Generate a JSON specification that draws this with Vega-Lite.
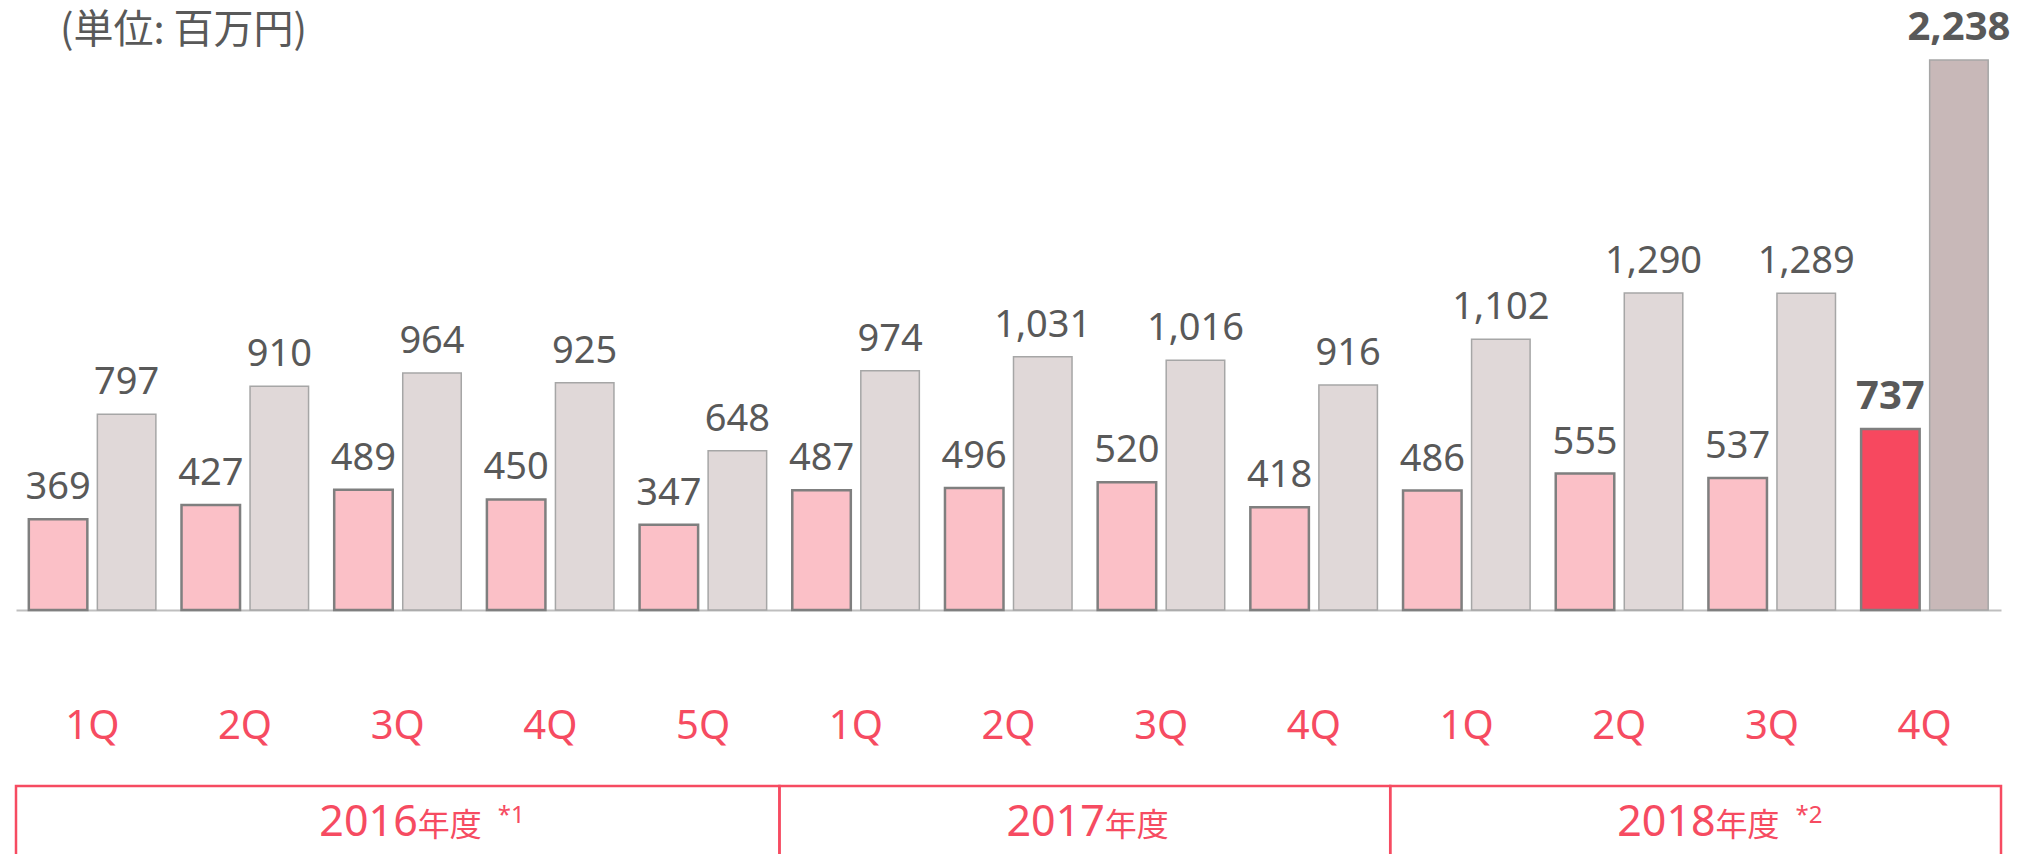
{
  "$schema": "https://vega.github.io/schema/vega-lite/v6.json",
  "autosize": {"type": "pad"},
  "padding": {"left": 14, "top": 8, "right": 0, "bottom": 0},
  "background": "white",
  "spacing": 38,
  "config": {"view": {"stroke": null}},
  "vconcat": [
    {
      "width": 1985,
      "height": 550,
      "title": {
        "text": "(単位: 百万円)",
        "anchor": "start",
        "frame": "group",
        "offset": -43,
        "dx": 44,
        "font": "Noto Sans CJK JP",
        "fontSize": 40,
        "fontWeight": "normal",
        "color": "#595959"
      },
      "data": {
        "values": [
          {"p": "2016-1Q", "s": "A", "v": 369, "latest": false},
          {"p": "2016-1Q", "s": "B", "v": 797, "latest": false},
          {"p": "2016-2Q", "s": "A", "v": 427, "latest": false},
          {"p": "2016-2Q", "s": "B", "v": 910, "latest": false},
          {"p": "2016-3Q", "s": "A", "v": 489, "latest": false},
          {"p": "2016-3Q", "s": "B", "v": 964, "latest": false},
          {"p": "2016-4Q", "s": "A", "v": 450, "latest": false},
          {"p": "2016-4Q", "s": "B", "v": 925, "latest": false},
          {"p": "2016-5Q", "s": "A", "v": 347, "latest": false},
          {"p": "2016-5Q", "s": "B", "v": 648, "latest": false},
          {"p": "2017-1Q", "s": "A", "v": 487, "latest": false},
          {"p": "2017-1Q", "s": "B", "v": 974, "latest": false},
          {"p": "2017-2Q", "s": "A", "v": 496, "latest": false},
          {"p": "2017-2Q", "s": "B", "v": 1031, "latest": false},
          {"p": "2017-3Q", "s": "A", "v": 520, "latest": false},
          {"p": "2017-3Q", "s": "B", "v": 1016, "latest": false},
          {"p": "2017-4Q", "s": "A", "v": 418, "latest": false},
          {"p": "2017-4Q", "s": "B", "v": 916, "latest": false},
          {"p": "2018-1Q", "s": "A", "v": 486, "latest": false},
          {"p": "2018-1Q", "s": "B", "v": 1102, "latest": false},
          {"p": "2018-2Q", "s": "A", "v": 555, "latest": false},
          {"p": "2018-2Q", "s": "B", "v": 1290, "latest": false},
          {"p": "2018-3Q", "s": "A", "v": 537, "latest": false},
          {"p": "2018-3Q", "s": "B", "v": 1289, "latest": false},
          {"p": "2018-4Q", "s": "A", "v": 737, "latest": true},
          {"p": "2018-4Q", "s": "B", "v": 2238, "latest": true}
        ]
      },
      "encoding": {
        "x": {
          "field": "p",
          "type": "nominal",
          "sort": null,
          "scale": {"paddingInner": 0, "paddingOuter": 0},
          "axis": {
            "title": null,
            "ticks": false,
            "labelExpr": "slice(datum.value, 5)",
            "labelAngle": 0,
            "labelFont": "Noto Sans",
            "labelFontSize": 40,
            "labelColor": "#F64B61",
            "labelBaseline": "alphabetic",
            "labelPadding": 128,
            "domainColor": "#BFBFBF",
            "domainWidth": 2
          }
        },
        "xOffset": {
          "field": "s",
          "type": "nominal",
          "scale": {"domain": ["A", "B"], "paddingInner": 0.146, "paddingOuter": 0.187}
        },
        "y": {
          "field": "v",
          "type": "quantitative",
          "scale": {"domain": [0, 2238], "nice": false},
          "axis": null
        }
      },
      "layer": [
        {
          "mark": {"type": "bar"},
          "encoding": {
            "fill": {
              "condition": [
                {"test": "datum.latest && datum.s === 'A'", "value": "#F7485F"},
                {"test": "datum.latest", "value": "#C8B8B8"}
              ],
              "field": "s",
              "type": "nominal",
              "scale": {"domain": ["A", "B"], "range": ["#FBC0C7", "#E0D8D8"]},
              "legend": null
            },
            "stroke": {
              "field": "s",
              "type": "nominal",
              "scale": {"domain": ["A", "B"], "range": ["#7F7F7F", "#A6A6A6"]},
              "legend": null
            },
            "strokeWidth": {
              "field": "s",
              "type": "nominal",
              "scale": {"domain": ["A", "B"], "range": [2.5, 1.5]},
              "legend": null
            }
          }
        },
        {
          "transform": [{"filter": "!datum.latest"}],
          "mark": {
            "type": "text",
            "baseline": "alphabetic",
            "dy": -20,
            "font": "Noto Sans",
            "fontSize": 38,
            "color": "#595959"
          },
          "encoding": {"text": {"field": "v", "type": "quantitative", "format": ",d"}}
        },
        {
          "transform": [{"filter": "datum.latest"}],
          "mark": {
            "type": "text",
            "baseline": "alphabetic",
            "dy": -20,
            "font": "Noto Sans",
            "fontSize": 40,
            "fontWeight": "bold",
            "color": "#595959"
          },
          "encoding": {"text": {"field": "v", "type": "quantitative", "format": ",d"}}
        }
      ]
    },
    {
      "width": 1985,
      "height": 100,
      "data": {
        "values": [
          {"fy": "2016", "note": "*1", "start": 0, "end": 5, "mid": 2.5},
          {"fy": "2017", "note": "", "start": 5, "end": 9, "mid": 7},
          {"fy": "2018", "note": "*2", "start": 9, "end": 13, "mid": 11}
        ]
      },
      "layer": [
        {
          "mark": {"type": "rect", "fill": "white", "fillOpacity": 0, "stroke": "#F64B61", "strokeWidth": 2.5},
          "encoding": {
            "x": {"field": "start", "type": "quantitative", "scale": {"domain": [0, 13], "nice": false, "zero": false}, "axis": null},
            "x2": {"field": "end"}
          }
        },
        {
          "mark": {"type": "text", "align": "right", "baseline": "alphabetic", "dx": 20, "font": "Noto Sans", "fontSize": 43, "color": "#F64B61"},
          "encoding": {
            "x": {"field": "mid", "type": "quantitative", "scale": {"domain": [0, 13], "nice": false, "zero": false}, "axis": null},
            "text": {"field": "fy"}
          }
        },
        {
          "mark": {"type": "text", "align": "left", "baseline": "alphabetic", "dx": 20, "font": "Noto Sans CJK JP", "fontSize": 32, "color": "#F64B61"},
          "encoding": {
            "x": {"field": "mid", "type": "quantitative", "scale": {"domain": [0, 13], "nice": false, "zero": false}, "axis": null},
            "text": {"value": "年度"}
          }
        },
        {
          "mark": {"type": "text", "align": "left", "baseline": "alphabetic", "dx": 100, "dy": -13, "font": "Noto Sans", "fontSize": 24, "color": "#F64B61"},
          "encoding": {
            "x": {"field": "mid", "type": "quantitative", "scale": {"domain": [0, 13], "nice": false, "zero": false}, "axis": null},
            "text": {"field": "note"}
          }
        }
      ]
    }
  ]
}
